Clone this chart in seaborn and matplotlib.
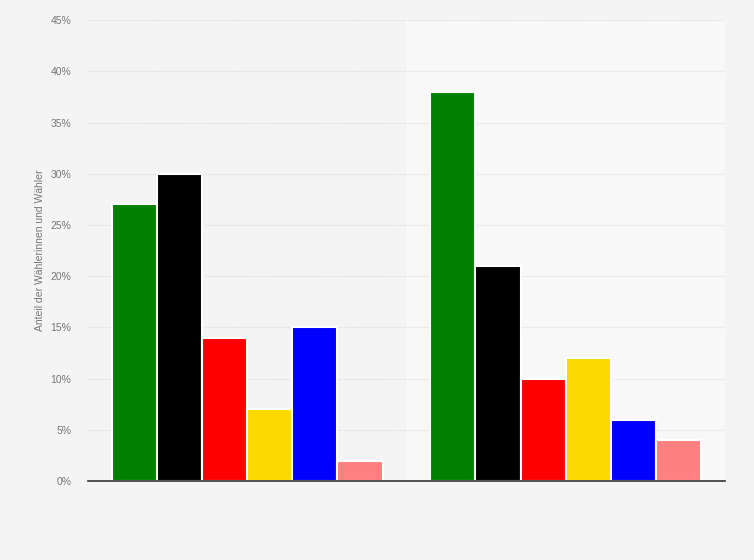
import numpy as np
import pandas as pd
import seaborn as sns
import matplotlib.pyplot as plt

groups = ["Gruppe 1", "Gruppe 2"]
parties = ["Grüne", "CDU", "SPD", "FDP", "AfD", "Linke"]
values_1 = [27, 30, 14, 7, 15, 2]
values_2 = [38, 21, 10, 12, 6, 4]
colors = ["#008000", "#000000", "#ff0000", "#fad800", "#0000ff", "#ff8080"]

df = pd.DataFrame({
    "gruppe": [groups[0]] * 6 + [groups[1]] * 6,
    "partei": parties * 2,
    "anteil": values_1 + values_2,
})

sns.set_style("white")
plt.rcParams["font.family"] = ["Liberation Sans", "DejaVu Sans"]

fig = plt.figure(figsize=(7.54, 5.6), dpi=100)
fig.patch.set_facecolor("#f4f4f4")
ax = fig.add_axes([0.1167, 0.1411, 0.8448, 0.8229])
ax.set_facecolor("#f4f4f4")
ax.axvspan(0.5, 1.5, color="#f8f8f8", zorder=0)

sns.barplot(data=df, x="gruppe", y="anteil", hue="partei", palette=colors, saturation=1,
            width=0.85, edgecolor="white", linewidth=1.5, legend=False, ax=ax, zorder=3)

ax.set_xlim(-0.5, 1.5)
ax.set_ylim(0, 45)
ax.set_yticks(np.arange(0, 46, 5))
ax.set_yticklabels([f"{v}%" for v in range(0, 46, 5)], fontsize=7.5, color="#777777")
ax.tick_params(axis="y", length=0, pad=12)
ax.set_xticks([])
ax.set_xlabel("")
ax.set_ylabel("Anteil der Wählerinnen und Wähler", fontsize=7.5, color="#777777", labelpad=4)
ax.grid(axis="y", color="#d8d8d8", linestyle=(0, (1, 1.5)), linewidth=0.8, zorder=1)
ax.set_axisbelow(True)
for s in ["top", "right", "left"]:
    ax.spines[s].set_visible(False)
ax.spines["bottom"].set_color("#333333")
ax.spines["bottom"].set_linewidth(1.2)
ax.spines["bottom"].set_zorder(5)

fig.savefig("out.png", dpi=100, facecolor=fig.get_facecolor())
